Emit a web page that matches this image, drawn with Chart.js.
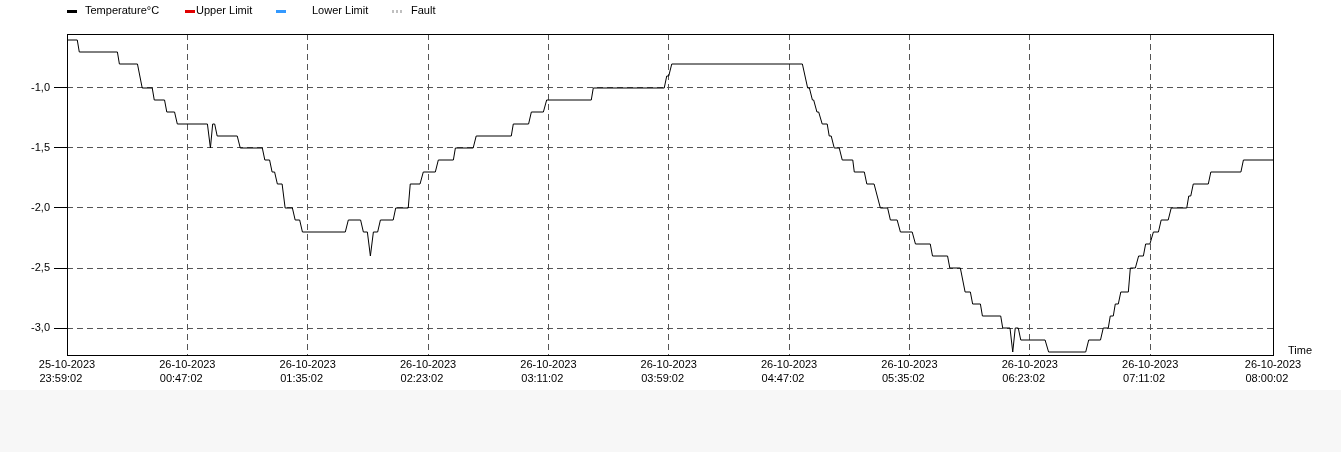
<!DOCTYPE html>
<html>
<head>
<meta charset="utf-8">
<title>Temperature</title>
<script src="https://cdn.jsdelivr.net/npm/chart.js@4.4.1/dist/chart.umd.min.js"></script>
<style>
  body { margin: 0; background: #f7f7f7; font-family: "Liberation Sans", Arial, sans-serif; }
  #wrap { position: relative; width: 1341px; height: 390px; background: #fff; }
  #legend { position: absolute; left: 0; top: 0; width: 100%; height: 22px; font-size: 11px; color: #000; }
  #legend .mark { position: absolute; top: 10px; width: 10px; height: 3px; }
  #legend .txt { position: absolute; top: 4px; white-space: nowrap; }
</style>
</head>
<body>
<div id="wrap">
  <div id="legend"></div>
  <canvas id="tempChart"></canvas>
</div>
<script>
// Series: minutes since 25-10-2023 23:59:02 and the reading at that time
const minutes = [
    0, 4.1, 4.9, 20.1, 20.9, 28.1, 30.0, 34.0, 34.8, 38.9,
    39.8, 42.9, 44.0, 56.0, 57.2, 58.1, 58.9, 59.9, 67.9, 69.1,
    77.9, 78.9, 80.8, 81.8, 82.8, 83.9, 85.8, 87.0, 89.9, 91.0,
    92.8, 93.9, 111.0, 112.2, 117.1, 118.2, 119.8, 121.0, 122.2, 123.9,
    125.0, 130.1, 131.1, 136.1, 136.9, 140.8, 142.1, 146.9, 148.1, 154.1,
    154.9, 162.0, 163.2, 177.2, 178.0, 184.1, 185.2, 190.0, 191.3, 209.1,
    209.9, 238.2, 239.2, 240.0, 241.2, 293.3, 295.4, 296.1, 297.3, 297.8,
    299.1, 299.8, 301.2, 303.2, 304.0, 304.8, 306.0, 308.0, 309.2, 313.4,
    314.0, 318.0, 319.0, 321.9, 324.4, 327.3, 328.4, 331.1, 332.4, 337.1,
    338.4, 344.3, 345.2, 351.2, 352.1, 356.3, 358.2, 360.3, 361.2, 364.3,
    365.1, 372.4, 373.2, 376.1, 377.2, 378.2, 379.4, 380.4, 390.1, 391.5,
    406.3, 407.5, 412.2, 413.3, 415.3, 416.1, 417.3, 418.1, 419.3, 420.3,
    423.3, 424.1, 426.1, 427.4, 429.3, 430.2, 431.9, 433.3, 435.3, 436.4,
    439.2, 440.4, 446.6, 447.4, 448.2, 449.2, 455.2, 456.2, 468.2, 469.2,
    481.0
];
const temperature = [
    -0.6, -0.6, -0.7, -0.7, -0.8, -0.8, -1.0, -1.0, -1.1, -1.1,
    -1.2, -1.2, -1.3, -1.3, -1.5, -1.3, -1.3, -1.4, -1.4, -1.5,
    -1.5, -1.6, -1.6, -1.7, -1.7, -1.8, -1.8, -2.0, -2.0, -2.1,
    -2.1, -2.2, -2.2, -2.1, -2.1, -2.2, -2.2, -2.4, -2.2, -2.2,
    -2.1, -2.1, -2.0, -2.0, -1.8, -1.8, -1.7, -1.7, -1.6, -1.6,
    -1.5, -1.5, -1.4, -1.4, -1.3, -1.3, -1.2, -1.2, -1.1, -1.1,
    -1.0, -1.0, -0.9, -0.9, -0.8, -0.8, -1.0, -1.0, -1.1, -1.1,
    -1.2, -1.2, -1.3, -1.3, -1.4, -1.4, -1.5, -1.5, -1.6, -1.6,
    -1.7, -1.7, -1.8, -1.8, -2.0, -2.0, -2.1, -2.1, -2.2, -2.2,
    -2.3, -2.3, -2.4, -2.4, -2.5, -2.5, -2.7, -2.7, -2.8, -2.8,
    -2.9, -2.9, -3.0, -3.0, -3.2, -3.0, -3.0, -3.1, -3.1, -3.2,
    -3.2, -3.1, -3.1, -3.0, -3.0, -2.9, -2.9, -2.8, -2.8, -2.7,
    -2.7, -2.5, -2.5, -2.4, -2.4, -2.3, -2.3, -2.2, -2.2, -2.1,
    -2.1, -2.0, -2.0, -1.9, -1.9, -1.8, -1.8, -1.7, -1.7, -1.6,
    -1.6
];

// Axis ticks
const timeTicks = [0, 48, 96, 144, 192, 240, 288, 336, 384, 432, 481];
const tempTicks = [-3.0, -2.5, -2.0, -1.5, -1.0];

// Legend entries
const seriesNames = ['Temperature°C', 'Upper Limit', 'Lower Limit', 'Fault'];
const seriesColors = ['#000000', '#e00000', '#3399ff', '#c0c0c0'];

const startTime = new Date(2023, 9, 25, 23, 59, 2);

function pad(n) { return String(n).padStart(2, '0'); }

function timeLabel(min) {
    const d = new Date(startTime.getTime() + min * 60000);
    const day = pad(d.getDate()) + '-' + pad(d.getMonth() + 1) + '-' + d.getFullYear();
    const time = pad(d.getHours()) + ':' + pad(d.getMinutes()) + ':' + pad(d.getSeconds());
    // trailing spaces so the time line sits left aligned under the date
    return [day, time + '    '];
}

// HTML legend (fixed slots like the original)
const legendSlots = [[67, 85], [185, 196], [276, 312], [392, 411]];
const legendEl = document.getElementById('legend');
seriesNames.forEach((name, i) => {
    const mark = document.createElement('div');
    mark.className = 'mark';
    mark.style.left = legendSlots[i][0] + 'px';
    if (i === 3) {
        mark.style.background = 'repeating-linear-gradient(90deg, ' + seriesColors[i] + ' 0 2px, transparent 2px 4px)';
    } else {
        mark.style.background = seriesColors[i];
    }
    const txt = document.createElement('span');
    txt.className = 'txt';
    txt.style.left = legendSlots[i][1] + 'px';
    txt.textContent = name;
    legendEl.appendChild(mark);
    legendEl.appendChild(txt);
});

// Frame round the plot and the "Time" caption
const framePlugin = {
    id: 'frame',
    afterDraw(chart) {
        const { ctx, chartArea } = chart;
        ctx.save();
        ctx.strokeStyle = '#000';
        ctx.lineWidth = 1;
        ctx.strokeRect(Math.round(chartArea.left) + 0.5, Math.round(chartArea.top) + 0.5,
            Math.round(chartArea.right - chartArea.left), Math.round(chartArea.bottom - chartArea.top));
        ctx.fillStyle = '#000';
        ctx.font = '11px "Liberation Sans", Arial, sans-serif';
        ctx.textBaseline = 'middle';
        ctx.textAlign = 'left';
        ctx.fillText('Time', chartArea.right + 15, chartArea.bottom - 4);
        ctx.restore();
    }
};

const gridColor = '#555555';
const tickFont = { family: '"Liberation Sans", Arial, sans-serif', size: 11, lineHeight: 1.25 };

const ctx = document.getElementById('tempChart').getContext('2d');
new Chart(ctx, {
    type: 'line',
    data: {
        datasets: [
            {
                label: seriesNames[0],
                data: minutes.map((m, i) => ({ x: m, y: temperature[i] })),
                borderColor: seriesColors[0],
                borderWidth: 1,
                pointRadius: 0,
                tension: 0,
                fill: false
            },
            { label: seriesNames[1], data: [], borderColor: seriesColors[1], pointRadius: 0 },
            { label: seriesNames[2], data: [], borderColor: seriesColors[2], pointRadius: 0 },
            { label: seriesNames[3], data: [], borderColor: seriesColors[3], borderDash: [2, 2], pointRadius: 0 }
        ]
    },
    options: {
        responsive: true,
        maintainAspectRatio: false,
        animation: false,
        layout: { padding: { left: 0, right: 68, top: 34, bottom: 0 } },
        plugins: {
            legend: { display: false },
            tooltip: { enabled: false }
        },
        scales: {
            x: {
                type: 'linear',
                min: 0,
                max: 481,
                afterBuildTicks: axis => { axis.ticks = timeTicks.map(v => ({ value: v })); },
                afterFit: axis => { axis.height = 35; },
                ticks: {
                    autoSkip: false,
                    maxRotation: 0,
                    padding: 3,
                    color: '#000',
                    font: tickFont,
                    callback: value => timeLabel(value)
                },
                grid: {
                    drawTicks: false,
                    color: c => (c.index === 0 || c.index === timeTicks.length - 1) ? 'rgba(0,0,0,0)' : gridColor
                },
                border: { display: false, dash: [6, 4] }
            },
            y: {
                type: 'linear',
                min: -3.225,
                max: -0.55,
                afterBuildTicks: axis => { axis.ticks = tempTicks.map(v => ({ value: v })); },
                afterFit: axis => { axis.width = 67; },
                ticks: {
                    padding: 4,
                    color: '#000',
                    font: { family: tickFont.family, size: 11 },
                    callback: value => value.toFixed(1).replace('.', ',')
                },
                grid: {
                    color: gridColor,
                    tickColor: '#000',
                    tickLength: 13,
                    tickBorderDash: []
                },
                border: { display: false, dash: [6, 4] }
            }
        }
    },
    plugins: [framePlugin]
});
</script>
</body>
</html>
